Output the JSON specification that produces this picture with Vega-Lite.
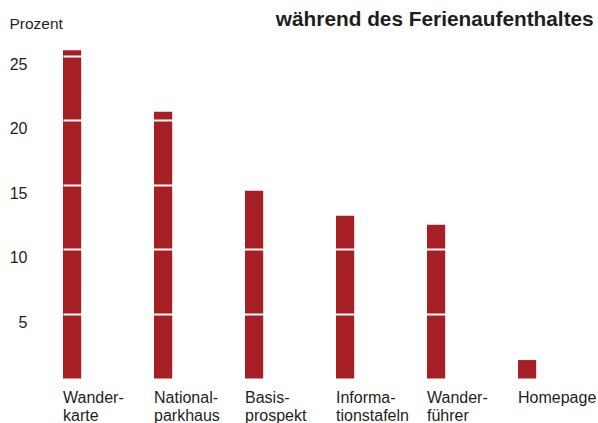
{
  "$schema": "https://vega.github.io/schema/vega-lite/v6.json",
  "autosize": {"type": "none"},
  "padding": {"left": 63, "top": 43.1, "right": 61.8, "bottom": 44.5},
  "width": 473.2,
  "height": 335.4,
  "background": "white",
  "config": {
    "font": "Liberation Sans",
    "view": {"stroke": null}
  },
  "title": {
    "text": "während des Ferienaufenthaltes",
    "anchor": "end",
    "frame": "group",
    "orient": "top",
    "fontSize": 20.8,
    "fontWeight": "bold",
    "color": "#1e1e1e",
    "baseline": "alphabetic",
    "offset": -30.5,
    "dx": 57.5
  },
  "data": {
    "values": [
      {"Kategorie": "Wander-\nkarte", "Prozent": 25.45},
      {"Kategorie": "National-\nparkhaus", "Prozent": 20.68},
      {"Kategorie": "Basis-\nprospekt", "Prozent": 14.56},
      {"Kategorie": "Informa-\ntionstafeln", "Prozent": 12.62},
      {"Kategorie": "Wander-\nführer", "Prozent": 11.92},
      {"Kategorie": "Homepage", "Prozent": 1.43}
    ]
  },
  "mark": {"type": "bar", "color": "#a51f25"},
  "encoding": {
    "x": {
      "field": "Kategorie",
      "type": "nominal",
      "sort": null,
      "scale": {"paddingInner": 0.8, "paddingOuter": 0},
      "axis": {
        "title": null,
        "domain": false,
        "ticks": false,
        "grid": false,
        "labelAngle": 0,
        "labelAlign": "left",
        "labelBaseline": "top",
        "labelOffset": -9.1,
        "labelPadding": 10.5,
        "labelFontSize": 16,
        "labelLineHeight": 18,
        "labelColor": "#1e1e1e",
        "labelExpr": "split(datum.value, '\\n')"
      }
    },
    "y": {
      "field": "Prozent",
      "type": "quantitative",
      "scale": {"domain": [0, 26], "nice": false},
      "axis": {
        "title": "Prozent",
        "titleAngle": 0,
        "titleAlign": "left",
        "titleBaseline": "alphabetic",
        "titleX": -54,
        "titleY": -15,
        "titleFontSize": 15.5,
        "titleFontWeight": "normal",
        "titleColor": "#1e1e1e",
        "domain": false,
        "ticks": false,
        "values": [5, 10, 15, 20, 25],
        "grid": true,
        "gridColor": "white",
        "gridWidth": 2,
        "zindex": 1,
        "labelPadding": 36,
        "labelBaseline": "top",
        "labelFontSize": 16,
        "labelColor": "#1e1e1e"
      }
    }
  }
}
